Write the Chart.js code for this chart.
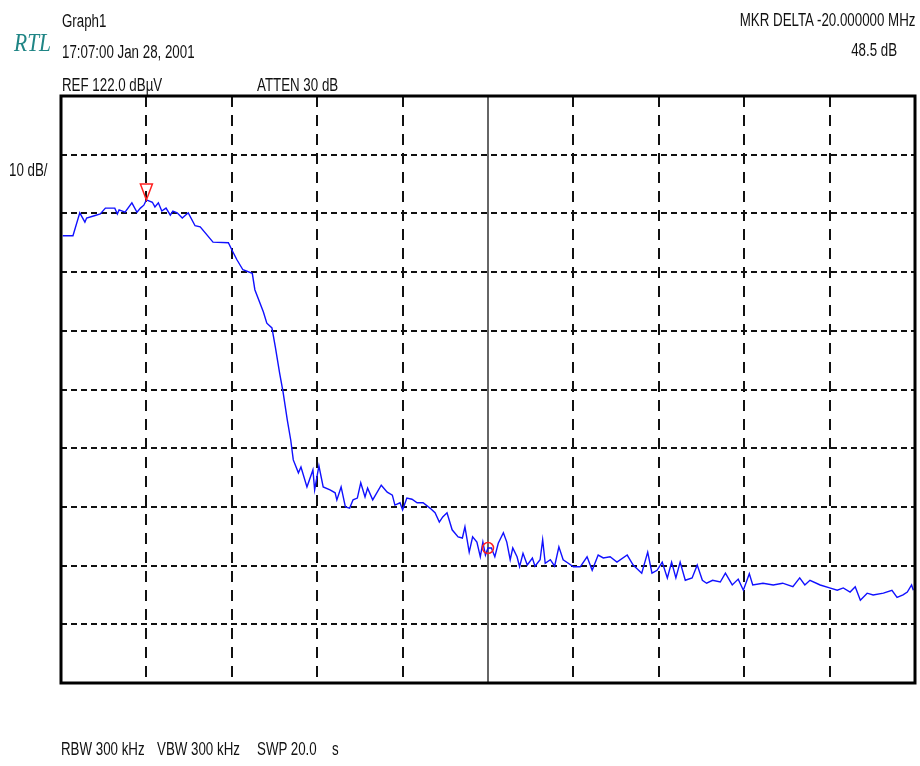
<!DOCTYPE html>
<html>
<head>
<meta charset="utf-8">
<script src="https://cdn.jsdelivr.net/npm/chart.js@4/dist/chart.umd.min.js"></script>
<style>
  html, body { margin: 0; padding: 0; background: #fff; }
  #wrap { position: relative; width: 920px; height: 766px; overflow: hidden; }
  #c { position: absolute; left: 0; top: 0; }
  .t { position: absolute; font-family: "Liberation Sans", Arial, sans-serif;
       font-size: 18px; line-height: 18px; color: #111; white-space: pre;
       transform: scaleX(0.74); transform-origin: left top; }
  .t.r { transform-origin: right top; text-align: right; }
  .logo { position: absolute; font-family: "Liberation Serif", serif; font-style: italic;
          font-size: 25px; line-height: 25px; color: #1f8585;
          transform: scaleX(0.86); transform-origin: left top; }
</style>
</head>
<body>
<div id="wrap">
  <canvas id="c" width="920" height="766"></canvas>
  <div class="logo" style="left:14px; top:30px;">RTL</div>
  <div class="t" style="left:62px; top:12px;">Graph1</div>
  <div class="t" style="left:62px; top:43px;">17:07:00 Jan 28, 2001</div>
  <div class="t" style="left:62px; top:76px;">REF 122.0 dBµV</div>
  <div class="t" style="left:257px; top:76px;">ATTEN 30 dB</div>
  <div class="t r" style="right:5px; top:11px;">MKR DELTA -20.000000 MHz</div>
  <div class="t r" style="right:23px; top:41px;">48.5 dB</div>
  <div class="t" style="left:9px; top:161px;">10 dB/</div>
  <div class="t" style="left:61px; top:740px;">RBW 300 kHz</div>
  <div class="t" style="left:157px; top:740px;">VBW 300 kHz</div>
  <div class="t" style="left:257px; top:740px;">SWP 20.0</div>
  <div class="t" style="left:332px; top:740px;">s</div>
</div>
<script>
// Sweep position in screen divisions (0 = left edge, 10 = right edge)
const freqDiv = [
  0.02, 0.14, 0.22, 0.28, 0.30, 0.39, 0.46, 0.52, 0.63, 0.66,
  0.68, 0.75, 0.83, 0.89, 0.93, 0.97, 1.00, 1.07, 1.10, 1.14,
  1.18, 1.23, 1.28, 1.31, 1.36, 1.42, 1.49, 1.57, 1.63, 1.78,
  1.96, 2.00, 2.06, 2.13, 2.24, 2.27, 2.37, 2.41, 2.47, 2.51,
  2.56, 2.60, 2.65, 2.69, 2.72, 2.78, 2.81, 2.88, 2.95, 2.97,
  3.02, 3.07, 3.15, 3.21, 3.23, 3.28, 3.33, 3.38, 3.42, 3.47,
  3.51, 3.56, 3.59, 3.65, 3.75, 3.82, 3.88, 3.91, 3.97, 4.00,
  4.05, 4.11, 4.17, 4.24, 4.32, 4.38, 4.43, 4.47, 4.52, 4.58,
  4.65, 4.70, 4.73, 4.78, 4.82, 4.87, 4.91, 4.94, 4.97, 5.00,
  5.04, 5.08, 5.12, 5.18, 5.22, 5.26, 5.29, 5.34, 5.37, 5.41,
  5.46, 5.52, 5.55, 5.61, 5.64, 5.67, 5.73, 5.78, 5.83, 5.88,
  5.94, 6.00, 6.08, 6.16, 6.22, 6.29, 6.35, 6.43, 6.51, 6.63,
  6.70, 6.80, 6.87, 6.92, 6.98, 7.04, 7.10, 7.15, 7.20, 7.25,
  7.31, 7.39, 7.45, 7.51, 7.56, 7.63, 7.72, 7.78, 7.86, 7.93,
  7.99, 8.06, 8.10, 8.22, 8.34, 8.45, 8.57, 8.65, 8.71, 8.77,
  8.89, 9.00, 9.09, 9.16, 9.24, 9.30, 9.36, 9.44, 9.51, 9.63,
  9.73, 9.79, 9.86, 9.91, 9.96, 9.98
];

// Measured level, dBµV
const levelDbuV = [
  98.2, 98.2, 102.1, 100.5, 101.2, 101.6, 101.9, 102.9, 102.9, 101.9,
  102.6, 102.2, 103.8, 102.2, 102.9, 103.4, 104.3, 103.9, 103.1, 103.8,
  102.4, 102.9, 101.7, 102.4, 102.1, 101.2, 102.1, 99.9, 99.7, 97.1,
  97.0, 95.8, 94.1, 92.4, 91.8, 89.0, 85.2, 83.3, 82.5, 79.2,
  74.8, 71.6, 66.8, 63.4, 60.0, 57.8, 58.8, 55.4, 58.3, 54.9,
  59.0, 55.4, 54.9, 54.4, 53.2, 55.4, 52.0, 51.8, 53.2, 53.5,
  56.1, 53.7, 55.2, 53.2, 55.7, 54.5, 54.0, 52.3, 52.7, 51.5,
  53.5, 53.3, 52.7, 52.7, 51.8, 51.0, 49.4, 50.3, 51.0, 48.1,
  46.9, 46.7, 48.6, 44.3, 46.9, 46.0, 43.5, 46.0, 43.8, 45.0,
  45.0, 43.5, 45.8, 47.6, 46.0, 43.0, 45.0, 43.5, 41.8, 44.1,
  42.1, 43.3, 41.9, 43.0, 46.4, 42.4, 43.0, 41.9, 45.2, 43.0,
  42.4, 41.8, 41.8, 43.5, 41.2, 43.8, 43.3, 43.5, 42.6, 43.8,
  42.1, 40.7, 44.3, 40.7, 41.2, 42.6, 39.9, 42.6, 39.9, 42.6,
  39.5, 39.9, 42.1, 39.5, 39.0, 39.5, 39.2, 40.7, 38.7, 39.7,
  37.8, 40.6, 38.7, 39.0, 38.7, 39.0, 38.4, 39.9, 38.7, 39.5,
  38.7, 38.2, 37.8, 38.2, 37.5, 38.4, 36.1, 37.3, 37.0, 37.3,
  37.8, 36.6, 37.0, 37.5, 38.7, 37.8
];

// Marker positions (divisions): reference marker and delta marker
const markerRefDiv = 1.00;
const markerDeltaDiv = 5.00;

// Screen: REF level at top, 10 dB per division, 10 divisions
const refLevel = 122;
const dbPerDiv = 10;
const numDiv = 10;

const tracePoints = freqDiv.map((x, i) => ({ x: x, y: levelDbuV[i] }));
const refIdx = freqDiv.indexOf(markerRefDiv);
const deltaIdx = freqDiv.indexOf(markerDeltaDiv);

const screenGrid = {
  id: 'screenGrid',
  beforeDatasetsDraw(chart) {
    const { ctx, chartArea: a, scales: { x, y } } = chart;
    ctx.save();
    ctx.strokeStyle = '#111';
    // horizontal graticule
    ctx.lineWidth = 2;
    ctx.setLineDash([6, 4]);
    for (let k = 1; k < numDiv; k++) {
      const py = Math.round(y.getPixelForValue(refLevel - k * dbPerDiv));
      ctx.beginPath(); ctx.moveTo(a.left, py); ctx.lineTo(a.right, py); ctx.stroke();
    }
    // vertical graticule, centre line solid
    for (let k = 1; k < numDiv; k++) {
      const px = Math.round(x.getPixelForValue(k));
      ctx.beginPath();
      if (k === numDiv / 2) {
        ctx.setLineDash([]); ctx.lineWidth = 1.5; ctx.strokeStyle = '#333';
      } else {
        ctx.setLineDash([11, 8]); ctx.lineWidth = 2; ctx.strokeStyle = '#111';
      }
      ctx.moveTo(px, a.top); ctx.lineTo(px, a.bottom); ctx.stroke();
    }
    ctx.restore();
  },
  afterDatasetsDraw(chart) {
    const { ctx, chartArea: a, scales: { x, y } } = chart;
    ctx.save();
    // screen frame
    ctx.strokeStyle = '#000';
    ctx.lineWidth = 3;
    ctx.setLineDash([]);
    ctx.strokeRect(a.left, a.top, a.right - a.left, a.bottom - a.top);
    // reference marker: open inverted triangle resting on the trace
    ctx.strokeStyle = '#ff2020';
    ctx.lineWidth = 1.5;
    const mx = x.getPixelForValue(freqDiv[refIdx]);
    const my = y.getPixelForValue(levelDbuV[refIdx]);
    ctx.beginPath();
    ctx.moveTo(mx, my);
    ctx.lineTo(mx - 6, my - 16);
    ctx.lineTo(mx + 6, my - 16);
    ctx.closePath();
    ctx.stroke();
    // delta marker: open circle
    const dx = x.getPixelForValue(freqDiv[deltaIdx]);
    const dy = y.getPixelForValue(levelDbuV[deltaIdx]);
    ctx.beginPath();
    ctx.arc(dx, dy, 5.5, 0, Math.PI * 2);
    ctx.stroke();
    ctx.restore();
  }
};

new Chart(document.getElementById('c'), {
  type: 'line',
  data: {
    datasets: [{
      data: tracePoints,
      borderColor: '#1010ff',
      borderWidth: 1.4,
      pointRadius: 0,
      tension: 0,
      fill: false
    }]
  },
  options: {
    responsive: false,
    animation: false,
    devicePixelRatio: 1,
    layout: { padding: { left: 61, right: 5, top: 96, bottom: 83 } },
    plugins: { legend: { display: false }, tooltip: { enabled: false } },
    scales: {
      x: { type: 'linear', min: 0, max: numDiv, display: false },
      y: { type: 'linear', min: refLevel - numDiv * dbPerDiv, max: refLevel, display: false }
    }
  },
  plugins: [screenGrid]
});
</script>
</body>
</html>
